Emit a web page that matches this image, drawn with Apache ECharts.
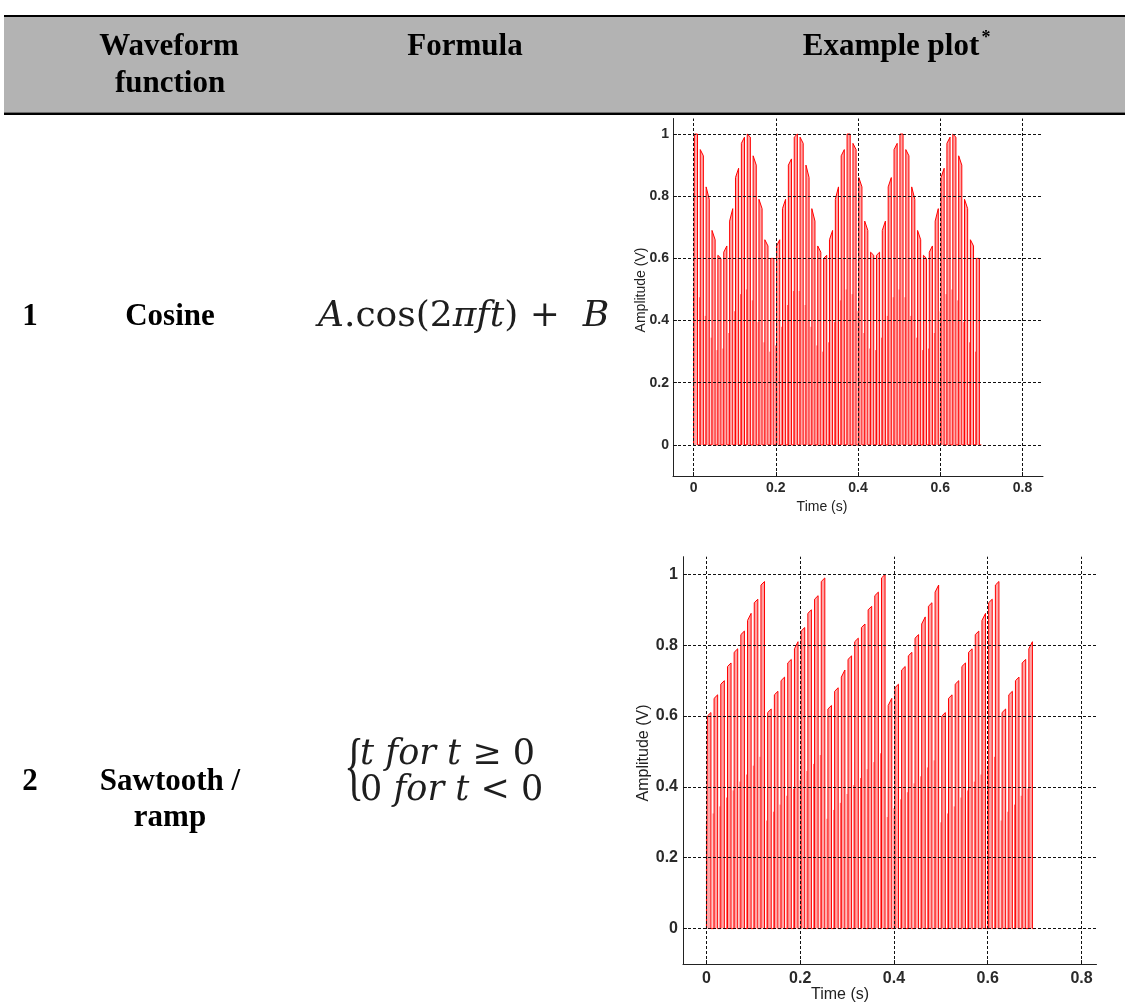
<!DOCTYPE html>
<html><head><meta charset="utf-8">
<script src="https://cdn.jsdelivr.net/npm/echarts@6/dist/echarts.min.js"></script>
<style>html,body{margin:0;padding:0;background:#fff}#c{width:1125px;height:1005px}</style>
</head><body><div id="c"></div><script>
// ---- data ----
const PULSE_TIMES = [0, 0.0143, 0.0286, 0.0429, 0.0571, 0.0714, 0.0857, 0.1, 0.1143, 0.1286,
  0.1429, 0.1571, 0.1714, 0.1857, 0.2, 0.2143, 0.2286, 0.2429, 0.2571, 0.2714,
  0.2857, 0.3, 0.3143, 0.3286, 0.3429, 0.3571, 0.3714, 0.3857, 0.4, 0.4143,
  0.4286, 0.4429, 0.4571, 0.4714, 0.4857, 0.5, 0.5143, 0.5286, 0.5429, 0.5571,
  0.5714, 0.5857, 0.6, 0.6143, 0.6286, 0.6429, 0.6571, 0.6714, 0.6857];
const COS_TOP_START = [1.00, 0.95, 0.83, 0.69, 0.61, 0.62, 0.72, 0.86, 0.97, 1.00,
  0.93, 0.79, 0.66, 0.60, 0.64, 0.76, 0.90, 0.99, 0.99, 0.90,
  0.76, 0.64, 0.60, 0.66, 0.79, 0.93, 1.00, 0.97, 0.86, 0.72,
  0.62, 0.61, 0.69, 0.83, 0.95, 1.00, 0.95, 0.83, 0.69, 0.61,
  0.62, 0.72, 0.86, 0.97, 1.00, 0.93, 0.79, 0.66, 0.60];
const COS_TOP_END = [1.00, 0.93, 0.79, 0.66, 0.60, 0.64, 0.76, 0.89, 0.99, 0.99,
  0.90, 0.76, 0.64, 0.60, 0.66, 0.79, 0.92, 1.00, 0.97, 0.86,
  0.72, 0.62, 0.61, 0.69, 0.83, 0.95, 1.00, 0.95, 0.83, 0.69,
  0.61, 0.62, 0.72, 0.86, 0.97, 1.00, 0.93, 0.79, 0.66, 0.60,
  0.64, 0.76, 0.89, 0.99, 0.99, 0.90, 0.76, 0.64, 0.60];
const SAW_TOP_START = [0.60, 0.65, 0.69, 0.74, 0.78, 0.83, 0.87, 0.92, 0.97, 0.61,
  0.66, 0.70, 0.75, 0.79, 0.84, 0.89, 0.93, 0.98, 0.62, 0.67,
  0.71, 0.76, 0.81, 0.85, 0.90, 0.94, 0.99, 0.63, 0.68, 0.73,
  0.77, 0.82, 0.86, 0.91, 0.95, 0.60, 0.65, 0.69, 0.74, 0.78,
  0.83, 0.87, 0.92, 0.97, 0.61, 0.66, 0.70, 0.75, 0.79];
const SAW_TOP_END = [0.61, 0.66, 0.70, 0.75, 0.79, 0.84, 0.89, 0.93, 0.98, 0.62,
  0.67, 0.71, 0.76, 0.81, 0.85, 0.90, 0.94, 0.99, 0.63, 0.68,
  0.73, 0.77, 0.82, 0.86, 0.91, 0.95, 1.00, 0.65, 0.69, 0.74,
  0.78, 0.83, 0.88, 0.92, 0.97, 0.61, 0.66, 0.70, 0.75, 0.79,
  0.84, 0.89, 0.93, 0.98, 0.62, 0.67, 0.71, 0.76, 0.81];
const SIGNAL_END = 0.70;
const X_TICKS = [0, 0.2, 0.4, 0.6, 0.8];
const Y_TICKS = [0, 0.2, 0.4, 0.6, 0.8, 1];
const X_LABEL = 'Time (s)';
const Y_LABEL = 'Amplitude (V)';

// pulse shape (structure, not values)
const PULSE_LEAD = 0.002, PULSE_WIDTH = 0.0076;

function pulseLine(starts, ends) {
  const d = [[PULSE_TIMES[0], 0]];
  PULSE_TIMES.forEach((t, i) => {
    const a = t + PULSE_LEAD, b = a + PULSE_WIDTH;
    d.push([a, 0], [a, starts[i]], [b, ends[i]], [b, 0]);
  });
  d.push([SIGNAL_END, 0]);
  return d;
}
function halfLines(starts) {
  const d = [];
  PULSE_TIMES.forEach((t, i) => { d.push([t, 0], [t, starts[i] / 2], [t, '-']); });
  return d;
}

const SANS = '"Liberation Sans", Arial, sans-serif';
const SERIF = '"Liberation Serif", "Times New Roman", serif';
const MATH = '"DejaVu Serif", serif';

function xAx(gi, max, fs, margin) {
  return {
    type: 'value', gridIndex: gi, min: -0.05, max: max,
    axisLine: { onZero: false, lineStyle: { color: '#222', width: 1 } },
    axisTick: { inside: true, length: 4, customValues: X_TICKS, lineStyle: { color: '#222' } },
    axisLabel: { customValues: X_TICKS, margin: margin, fontFamily: SANS, fontWeight: 'bold', fontSize: fs, color: '#2a2a2a' },
    splitLine: { show: false }
  };
}
function yAx(gi, fs, margin) {
  return {
    type: 'value', gridIndex: gi, min: -0.1, max: 1.05,
    axisLine: { onZero: false, lineStyle: { color: '#222', width: 1 } },
    axisTick: { inside: true, length: 4, customValues: Y_TICKS, lineStyle: { color: '#222' } },
    axisLabel: { customValues: Y_TICKS, margin: margin, fontFamily: SANS, fontWeight: 'bold', fontSize: fs, color: '#2a2a2a' },
    splitLine: { show: false }
  };
}
const gridLines = {
  symbol: ['none', 'none'], silent: true, animation: false,
  label: { show: false },
  lineStyle: { type: [3, 2], color: '#111', width: 1 },
  emphasis: { disabled: true },
  data: X_TICKS.map(v => ({ xAxis: v })).concat(Y_TICKS.map(v => ({ yAxis: v })))
};
function pulseSeries(gi, starts, ends) {
  return [{
    type: 'line', xAxisIndex: gi, yAxisIndex: gi, data: pulseLine(starts, ends),
    symbol: 'none', showSymbol: false, animation: false, silent: true,
    lineStyle: { color: '#ff0000', width: 1 },
    areaStyle: { color: 'rgba(255,0,0,0.5)', origin: 0 },
    markLine: gridLines, z: 2
  }, {
    type: 'line', xAxisIndex: gi, yAxisIndex: gi, data: halfLines(starts),
    symbol: 'none', showSymbol: false, animation: false, silent: true, connectNulls: false,
    lineStyle: { color: 'rgba(255,0,0,0.6)', width: 1 }, z: 3
  }];
}

function txt(text, x, y, opt) {
  return Object.assign({ type: 'text', x: x, y: y, silent: true,
    style: Object.assign({ text: text, fill: '#000', align: 'center', verticalAlign: 'middle',
      fontFamily: SERIF, fontWeight: 'bold', fontSize: 31 }, opt && opt.style) }, opt && opt.el);
}
function mathRich(fs) {
  return {
    i: { fontFamily: MATH, fontStyle: 'italic', fontSize: fs, fill: '#1e1e1e', color: '#1e1e1e' },
    r: { fontFamily: MATH, fontSize: fs, fill: '#1e1e1e', color: '#1e1e1e' }
  };
}

const option = {
  backgroundColor: '#fff',
  animation: false,
  grid: [
    { left: 673, top: 118.5, width: 370, height: 357.5 },
    { left: 683, top: 556.7, width: 413.5, height: 407.3 }
  ],
  xAxis: [xAx(0, 0.85, 14, 5), xAx(1, 0.832, 16, 7)],
  yAxis: [yAx(0, 14, 4), yAx(1, 16, 5)],
  series: pulseSeries(0, COS_TOP_START, COS_TOP_END).concat(pulseSeries(1, SAW_TOP_START, SAW_TOP_END)),
  graphic: [
    { type: 'rect', silent: true, shape: { x: 4, y: 17, width: 1121, height: 95.5 }, style: { fill: '#b3b3b3' } },
    { type: 'rect', silent: true, shape: { x: 4, y: 15, width: 1121, height: 2 }, style: { fill: '#000' } },
    { type: 'rect', silent: true, shape: { x: 4, y: 112.5, width: 1121, height: 2.5 }, style: { fill: '#000' } },
    txt('Waveform', 169, 47),
    txt('function', 170, 84),
    txt('Formula', 465, 47),
    txt('Example plot', 891, 47),
    txt('*', 986, 38, { style: { fontSize: 18 } }),
    txt('1', 30, 317),
    txt('Cosine', 170, 317),
    txt('2', 30, 782),
    txt('Sawtooth /', 170, 782),
    txt('ramp', 170, 818),
    { type: 'text', x: 318, y: 317, silent: true,
      style: { text: '{i|A}{r|.cos(2}{i|πft}{r|) +  }{i|B}', rich: mathRich(36), align: 'left', verticalAlign: 'middle', fill: '#1e1e1e' } },
    { type: 'text', x: 344, y: 771, scaleX: 0.55, silent: true,
      style: { text: '{', fontFamily: SERIF, fontSize: 76, fill: '#1e1e1e', align: 'left', verticalAlign: 'middle' } },
    { type: 'text', x: 360, y: 755, silent: true,
      style: { text: '{i|t for t }{r|≥ 0}', rich: mathRich(35), align: 'left', verticalAlign: 'middle', fill: '#1e1e1e' } },
    { type: 'text', x: 360, y: 791, silent: true,
      style: { text: '{r|0 }{i|for t }{r|< 0}', rich: mathRich(35), align: 'left', verticalAlign: 'middle', fill: '#1e1e1e' } },
    // axis titles
    txt(X_LABEL, 822, 507, { style: { fontFamily: SANS, fontWeight: 'normal', fontSize: 14, fill: '#222' } }),
    txt(X_LABEL, 840, 995, { style: { fontFamily: SANS, fontWeight: 'normal', fontSize: 16, fill: '#222' } }),
    txt(Y_LABEL, 641, 290, { el: { rotation: Math.PI / 2 }, style: { fontFamily: SANS, fontWeight: 'normal', fontSize: 14, fill: '#222' } }),
    txt(Y_LABEL, 644, 753, { el: { rotation: Math.PI / 2 }, style: { fontFamily: SANS, fontWeight: 'normal', fontSize: 16, fill: '#222' } })
  ]
};
const chart = echarts.init(document.getElementById('c'), null, { renderer: 'canvas' });
chart.setOption(option);
</script></body></html>
